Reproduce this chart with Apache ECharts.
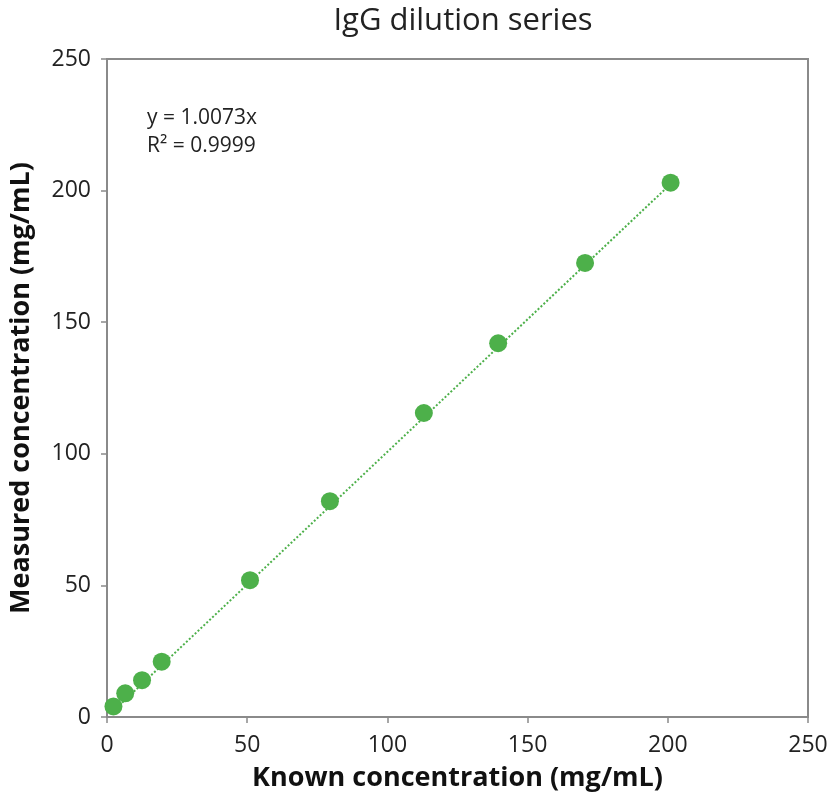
<!DOCTYPE html>
<html>
<head>
<meta charset="utf-8">
<script src="https://cdn.jsdelivr.net/npm/echarts@6/dist/echarts.min.js"></script>
<style>html,body{margin:0;padding:0;background:#fff}#c{width:832px;height:800px}</style>
</head>
<body>
<div id="c"></div>
<script>
const knownConc = [2.3, 6.5, 12.5, 19.5, 51, 79.5, 113, 139.5, 170.5, 201];
const measuredConc = [4, 9, 14, 21, 52, 82, 115.5, 142, 172.5, 203];
const trendX = [2.3, 201];
const trendY = [2.3, 202.5];
const axisTicks = [0, 50, 100, 150, 200, 250];
const titleText = 'IgG dilution series';
const eqLines = ['y = 1.0073x', 'R\u00B2 = 0.9999'];

const green = '#4DB04A';
const font = 'Open Sans';
const chart = echarts.init(document.getElementById('c'), null, {renderer: 'canvas'});
const pts = knownConc.map((x, i) => [x, measuredConc[i]]);
const trend = trendX.map((x, i) => [x, trendY[i]]);
const axisCommon = {
  type: 'value', min: axisTicks[0], max: axisTicks[axisTicks.length - 1], interval: 50,
  nameLocation: 'middle',
  nameTextStyle: {fontFamily: font, fontWeight: 'bold', fontSize: 27, color: '#111'},
  axisLine: {show: true, lineStyle: {color: '#8a8a8a', width: 2}},
  axisTick: {show: true, length: 6, lineStyle: {color: '#8a8a8a', width: 1.5}},
  axisLabel: {fontFamily: font, fontSize: 23, color: '#222'},
  splitLine: {show: false}
};
chart.setOption({
  animation: false,
  title: {text: titleText, left: 458, top: 1, textAlign: 'center',
    textStyle: {fontFamily: font, fontWeight: 'normal', fontSize: 31, color: '#222'}},
  grid: {left: 105, right: 24, top: 59, bottom: 83, show: true, borderColor: '#8a8a8a', borderWidth: 2, backgroundColor: '#fff'},
  xAxis: Object.assign({}, axisCommon, {name: 'Known concentration (mg/mL)', nameGap: 48,
    axisLabel: Object.assign({}, axisCommon.axisLabel, {margin: 17})}),
  yAxis: Object.assign({}, axisCommon, {name: 'Measured concentration (mg/mL)', nameGap: 72,
    axisLabel: Object.assign({}, axisCommon.axisLabel, {margin: 16})}),
  graphic: [{
    type: 'text', left: 147, top: 104,
    style: {text: eqLines.join('\n'), fontFamily: font, fontSize: 21, lineHeight: 28, fill: '#222'}
  }],
  series: [{
    type: 'line', data: trend, symbol: 'none', z: 1,
    lineStyle: {color: green, width: 2, type: 'dotted'}
  }, {
    type: 'scatter', data: pts, symbol: 'circle', symbolSize: 18, z: 2,
    itemStyle: {color: green, opacity: 1}
  }]
});
</script>
</body>
</html>
